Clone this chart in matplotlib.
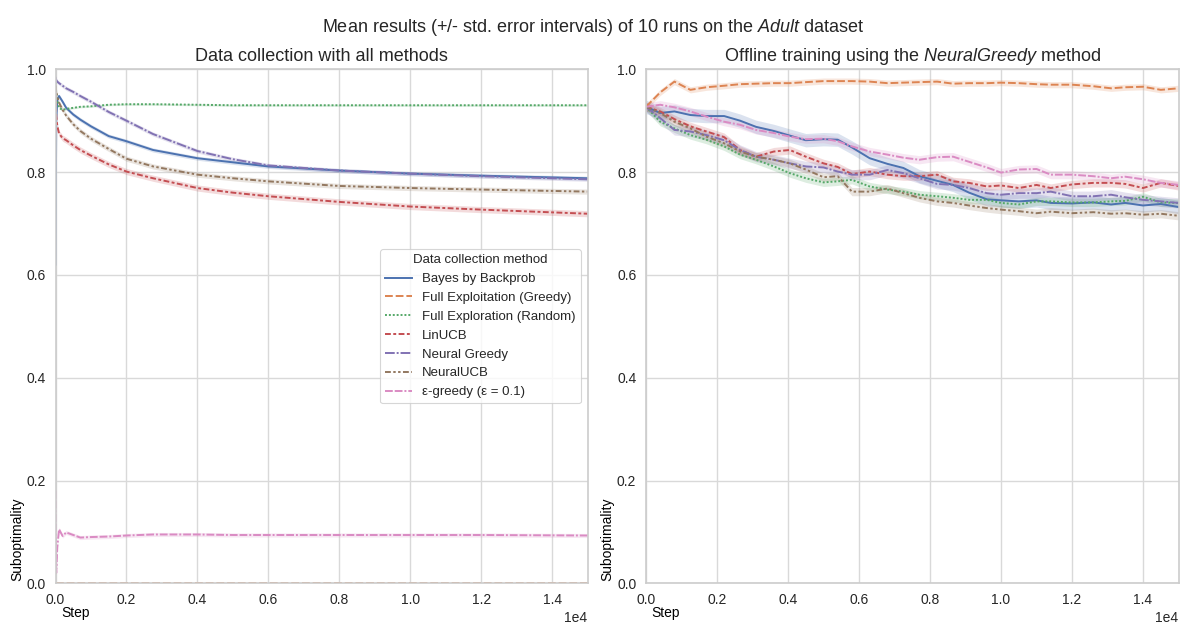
import numpy as np
import matplotlib
matplotlib.use("Agg")
import matplotlib.pyplot as plt

# ---- data ----
methods = ['Bayes by Backprob', 'Full Exploitation (Greedy)', 'Full Exploration (Random)',
           'LinUCB', 'Neural Greedy', 'NeuralUCB', 'ε-greedy (ε = 0.1)']

# left panel: data collection
left_steps = [0, 20, 50, 100, 200, 300, 500, 700, 1000, 1500, 2000, 2750, 4000, 5000, 6000, 8000, 10000, 12000, 15000]
left_bbb = [0.62, 0.90, 0.94, 0.948, 0.937, 0.925, 0.912, 0.902, 0.889, 0.870, 0.860, 0.843, 0.827, 0.819, 0.811, 0.803, 0.797, 0.793, 0.788]
left_greedy = [0.0] * 19
left_random = [0.975, 0.955, 0.94, 0.925, 0.921, 0.923, 0.925, 0.927, 0.928, 0.931, 0.932, 0.932, 0.931, 0.930, 0.930, 0.930, 0.930, 0.930, 0.930]
left_linucb = [0.966, 0.91, 0.89, 0.875, 0.866, 0.862, 0.852, 0.843, 0.832, 0.815, 0.801, 0.788, 0.769, 0.760, 0.753, 0.742, 0.733, 0.727, 0.719]
left_ngreedy = [0.985, 0.979, 0.976, 0.973, 0.968, 0.963, 0.956, 0.948, 0.937, 0.917, 0.900, 0.874, 0.841, 0.825, 0.813, 0.803, 0.797, 0.792, 0.786]
left_nucb = [0.97, 0.955, 0.948, 0.935, 0.921, 0.910, 0.893, 0.880, 0.865, 0.845, 0.826, 0.811, 0.795, 0.788, 0.782, 0.773, 0.769, 0.766, 0.762]
left_eps = [0.18, 0.02, 0.07, 0.105, 0.092, 0.099, 0.094, 0.089, 0.090, 0.091, 0.093, 0.095, 0.095, 0.094, 0.094, 0.094, 0.094, 0.094, 0.093]
left_err = [0.004, 0.0, 0.002, 0.006, 0.004, 0.005, 0.004]

# right panel: offline training with NeuralGreedy
right_steps = [0, 400, 800, 1250, 1700, 2200, 2650, 3100, 3600, 4050, 4500, 5000, 5400, 5800, 6300, 6800, 7250,
               7700, 8200, 8650, 9100, 9600, 10000, 10500, 11000, 11400, 12000, 12600, 13100, 13500, 14000, 14500, 15000]
right_bbb = [0.927, 0.915, 0.918, 0.911, 0.909, 0.909, 0.900, 0.888, 0.880, 0.871, 0.862, 0.864, 0.863, 0.848, 0.827, 0.816, 0.808,
             0.792, 0.783, 0.775, 0.760, 0.747, 0.745, 0.743, 0.745, 0.740, 0.739, 0.741, 0.737, 0.740, 0.735, 0.738, 0.732]
right_greedy = [0.927, 0.955, 0.976, 0.960, 0.965, 0.968, 0.971, 0.972, 0.973, 0.973, 0.975, 0.977, 0.977, 0.977, 0.976, 0.973, 0.974,
                0.975, 0.976, 0.972, 0.973, 0.973, 0.974, 0.973, 0.971, 0.970, 0.970, 0.967, 0.963, 0.965, 0.966, 0.960, 0.963]
right_random = [0.927, 0.898, 0.885, 0.872, 0.863, 0.850, 0.834, 0.824, 0.811, 0.798, 0.788, 0.780, 0.782, 0.785, 0.772, 0.766, 0.762,
                0.756, 0.753, 0.750, 0.746, 0.746, 0.740, 0.737, 0.743, 0.743, 0.741, 0.741, 0.743, 0.744, 0.752, 0.741, 0.740]
right_linucb = [0.927, 0.918, 0.903, 0.889, 0.879, 0.868, 0.843, 0.830, 0.840, 0.843, 0.830, 0.817, 0.810, 0.796, 0.801, 0.795, 0.792,
                0.792, 0.795, 0.782, 0.779, 0.772, 0.774, 0.769, 0.775, 0.769, 0.776, 0.779, 0.779, 0.777, 0.769, 0.779, 0.773]
right_ngreedy = [0.927, 0.905, 0.882, 0.879, 0.872, 0.862, 0.843, 0.830, 0.824, 0.817, 0.811, 0.809, 0.801, 0.795, 0.795, 0.804, 0.798,
                 0.788, 0.777, 0.775, 0.769, 0.759, 0.756, 0.759, 0.759, 0.762, 0.753, 0.753, 0.756, 0.751, 0.746, 0.743, 0.740]
right_nucb = [0.927, 0.915, 0.898, 0.885, 0.869, 0.856, 0.840, 0.830, 0.824, 0.817, 0.805, 0.790, 0.792, 0.762, 0.762, 0.768, 0.759,
              0.750, 0.743, 0.740, 0.735, 0.730, 0.727, 0.724, 0.720, 0.723, 0.720, 0.722, 0.719, 0.720, 0.717, 0.719, 0.715]
right_eps = [0.927, 0.931, 0.926, 0.918, 0.908, 0.898, 0.892, 0.882, 0.876, 0.869, 0.864, 0.865, 0.860, 0.850, 0.840, 0.834, 0.828,
             0.824, 0.829, 0.830, 0.820, 0.809, 0.799, 0.805, 0.806, 0.795, 0.795, 0.792, 0.788, 0.791, 0.786, 0.779, 0.775]
right_err = [0.013, 0.006, 0.008, 0.008, 0.010, 0.008, 0.008]

# seaborn "deep" palette and default dash cycle
colors = ['#4C72B0', '#DD8452', '#55A868', '#C44E52', '#8172B3', '#937860', '#DA8BC3']
dashes = [(None, None), (4, 1.5), (1, 1), (3, 1.25, 1.5, 1.25), (5, 1, 1, 1),
          (3, 1.25, 1.25, 1.25, 1.25, 1.25), (4, 1, 4, 1, 1, 1)]

plt.rcParams['font.family'] = ['Liberation Sans', 'DejaVu Sans']
plt.rcParams['mathtext.fontset'] = 'custom'
plt.rcParams['mathtext.it'] = 'Liberation Sans:italic'
plt.rcParams['mathtext.rm'] = 'Liberation Sans'
plt.rcParams['text.color'] = '#262626'

fig = plt.figure(figsize=(11.86, 6.23), dpi=100)
ax1 = fig.add_axes([0.0468, 0.0637, 0.4486, 0.8251])
ax2 = fig.add_axes([0.5447, 0.0637, 0.4490, 0.8251])


def draw(ax, steps, series, errs):
    x = np.array(steps)
    for i, (vals, err) in enumerate(zip(series, errs)):
        y = np.array(vals)
        ax.fill_between(x, y - err, y + err, color=colors[i], alpha=0.2, lw=0)
        ln, = ax.plot(x, y, color=colors[i], lw=1.4, label=methods[i])
        if dashes[i][0] is not None:
            ln.set_dashes(dashes[i])
    ax.set_xlim(0, 15000)
    ax.set_ylim(0, 1.0)
    ax.set_yticks([0, 0.2, 0.4, 0.6, 0.8, 1.0])
    ax.ticklabel_format(axis='x', style='sci', scilimits=(0, 0))
    ax.grid(True, color='#d9d9d9', lw=1.0)
    ax.set_axisbelow(True)
    ax.tick_params(length=0, pad=7, labelsize=10, labelcolor='#262626')
    ax.xaxis.get_offset_text().set_fontsize(10)
    for sp in ax.spines.values():
        sp.set_color('#cccccc')
        sp.set_linewidth(1.2)
    ax.set_xlabel('Step', fontsize=10)
    ax.xaxis.set_label_coords(0.037, -0.058)
    ax.xaxis.label.set_va('center')
    ax.set_ylabel('Suboptimality', fontsize=10)
    ax.yaxis.set_label_coords(-0.072, 0.086)
    ax.yaxis.label.set_va('center')


draw(ax1, left_steps, [left_bbb, left_greedy, left_random, left_linucb, left_ngreedy, left_nucb, left_eps], left_err)
draw(ax2, right_steps, [right_bbb, right_greedy, right_random, right_linucb, right_ngreedy, right_nucb, right_eps], right_err)

ax1.set_title('Data collection with all methods', fontsize=13)
ax2.set_title('Offline training using the $\\it{NeuralGreedy}$ method', fontsize=13)

leg = ax1.legend(title='Data collection method', loc='center right', fontsize=9.5, title_fontsize=9.5,
                 labelspacing=0.5, frameon=True, fancybox=True, edgecolor='#cccccc')
leg.get_frame().set_linewidth(0.8)

fig.suptitle('Mean results (+/- std. error intervals) of 10 runs on the $\\it{Adult}$ dataset',
             fontsize=13, y=0.972)

plt.savefig('out.png', dpi=100)
